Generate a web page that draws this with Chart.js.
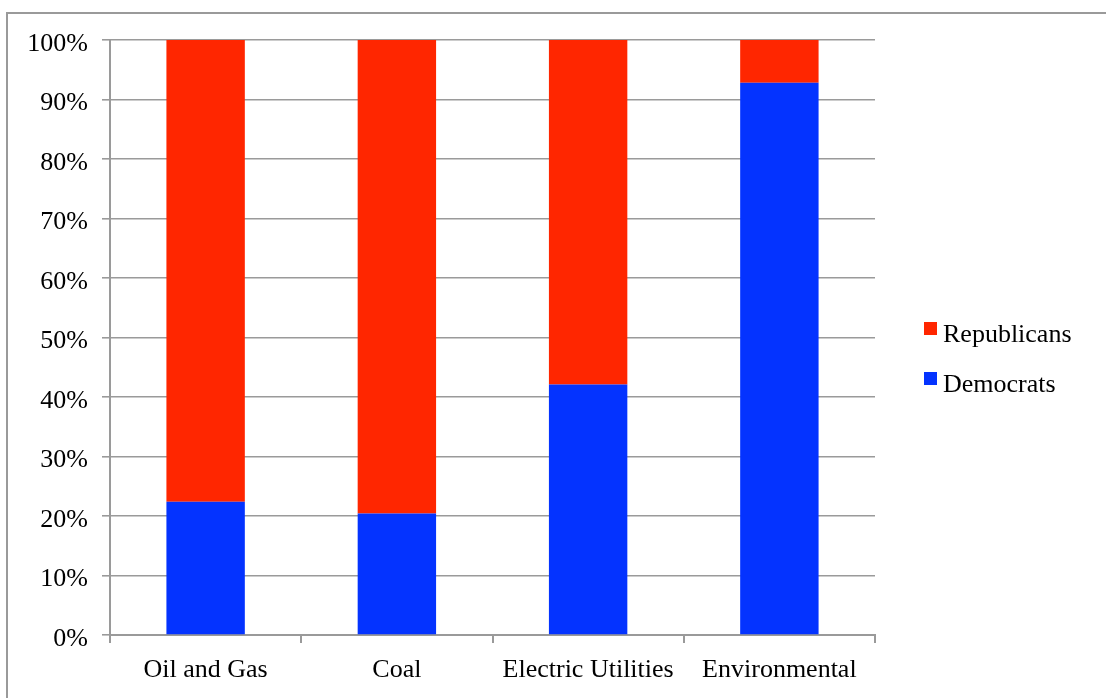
<!DOCTYPE html>
<html>
<head>
<meta charset="utf-8">
<script src="https://cdn.jsdelivr.net/npm/chart.js@4/dist/chart.umd.min.js"></script>
<style>
  html, body { margin: 0; padding: 0; background: #fff; }
  #wrap { position: relative; width: 1106px; height: 698px; overflow: hidden; }
  #frame { position: absolute; left: 6px; top: 12px; width: 1200px; height: 800px; border-left: 2px solid #9a9a9a; border-top: 2px solid #9a9a9a; box-sizing: border-box; }
  canvas { position: absolute; left: 0; top: 0; }
</style>
</head>
<body>
<div id="wrap">
  <div id="frame"></div>
  <canvas id="c" width="1106" height="698"></canvas>
</div>
<script>
const categories = ['Oil and Gas', 'Coal', 'Electric Utilities', 'Environmental'];
const democrats = [22.4, 20.4, 42.1, 92.8];
const republicans = [77.6, 79.6, 57.9, 7.2];
const seriesNames = ['Democrats', 'Republicans'];
const seriesColors = ['#0433FF', '#FF2600'];

const FONT = "'Liberation Serif', 'Times New Roman', serif";

const legendPlugin = {
  id: 'sideLegend',
  afterDraw(chart) {
    const ctx = chart.ctx;
    const ds = chart.data.datasets.slice().reverse();
    ctx.save();
    ctx.font = '26px ' + FONT;
    ctx.textBaseline = 'alphabetic';
    ctx.textAlign = 'left';
    ds.forEach((d, i) => {
      const base = 342 + i * 50;
      ctx.fillStyle = d.backgroundColor;
      ctx.fillRect(924, base - 20, 13, 13);
      ctx.fillStyle = '#000';
      ctx.fillText(d.label, 943, base);
    });
    ctx.restore();
  }
};

new Chart(document.getElementById('c'), {
  type: 'bar',
  data: {
    labels: categories,
    datasets: [
      { label: seriesNames[0], data: democrats, backgroundColor: seriesColors[0], barPercentage: 0.41, categoryPercentage: 1 },
      { label: seriesNames[1], data: republicans, backgroundColor: seriesColors[1], barPercentage: 0.41, categoryPercentage: 1 }
    ]
  },
  options: {
    responsive: false,
    animation: false,
    devicePixelRatio: 1,
    layout: { padding: { left: 0, right: 231, top: 40, bottom: 0 } },
    plugins: {
      legend: { display: false },
      tooltip: { enabled: false },
      title: { display: false }
    },
    scales: {
      x: {
        stacked: true,
        afterFit(scale) { scale.height = 63; },
        grid: { display: true, offset: true, drawOnChartArea: false, drawTicks: true, tickLength: 8, color: '#9a9a9a', lineWidth: 2 },
        border: { display: true, color: '#9a9a9a', width: 2 },
        ticks: { color: '#000', font: { family: FONT, size: 26 }, padding: 12, maxRotation: 0 }
      },
      y: {
        stacked: true,
        min: 0,
        max: 100,
        afterFit(scale) { scale.width = 110; },
        grid: { color: '#9a9a9a', lineWidth: 1.6, tickLength: 8, drawTicks: true },
        border: { display: true, color: '#9a9a9a', width: 2 },
        ticks: { stepSize: 10, color: '#000', font: { family: FONT, size: 26 }, padding: 14, labelOffset: 4, callback: v => v + '%' }
      }
    }
  },
  plugins: [legendPlugin]
});
</script>
</body>
</html>
